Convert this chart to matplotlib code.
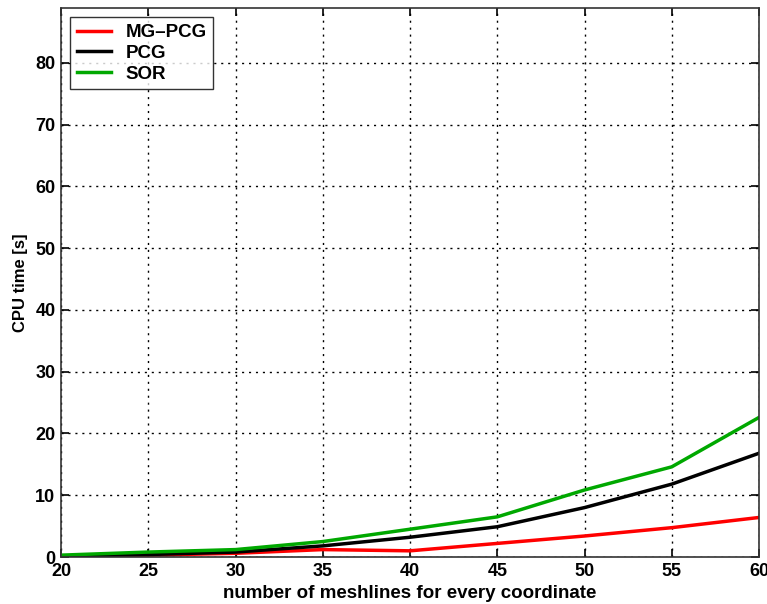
import matplotlib
matplotlib.use('Agg')
import matplotlib.pyplot as plt
import numpy as np

meshlines = [20, 25, 30, 35, 40, 45, 50, 55, 60]
mg_pcg = [0.1, 0.3, 0.6, 1.2, 1.0, 2.2, 3.4, 4.75, 6.4]
pcg = [0.1, 0.4, 0.8, 1.8, 3.2, 4.9, 8.0, 11.8, 16.8]
sor = [0.3, 0.8, 1.2, 2.5, 4.5, 6.5, 10.85, 14.6, 22.6]

plt.rcParams['font.family'] = 'Liberation Sans'
plt.rcParams['font.weight'] = 'bold'

fig = plt.figure(figsize=(7.67, 6.04), dpi=100)
ax = fig.add_axes([61/767, 1 - 557/604, (759-61)/767, (557-8)/604])

ax.plot(meshlines, mg_pcg, color='#ff0000', lw=2.5, label='MG\u2013PCG')
ax.plot(meshlines, pcg, color='black', lw=2.5, label='PCG')
ax.plot(meshlines, sor, color='#00a800', lw=2.5, label='SOR')

ax.set_xlim(20, 60)
ax.set_ylim(0, 88.9)
ax.set_xticks(np.arange(20, 61, 5))
ax.set_yticks(np.arange(0, 81, 10))
ax.grid(True, color='black', linestyle=(0, (1.5, 3.5)), linewidth=1.0)
ax.tick_params(direction='in', length=6, width=1.2, labelsize=13, top=True, right=True, pad=4)
for lab in ax.get_xticklabels() + ax.get_yticklabels():
    lab.set_fontweight('bold')
for s in ax.spines.values():
    s.set_linewidth(1.2)
    s.set_color('#333333')

ax.set_xlabel('number of meshlines for every coordinate', fontsize=13.5, fontweight='bold', labelpad=4)
ax.set_ylabel('CPU time [s]', fontsize=12, fontweight='bold', labelpad=5)

leg = ax.legend(loc='upper left', fontsize=13.5, frameon=True, fancybox=False,
                edgecolor='black', borderaxespad=0.5, handlelength=1.8,
                labelspacing=0.2, borderpad=0.35, handletextpad=0.8)
leg.get_frame().set_linewidth(1.0)
for t in leg.get_texts():
    t.set_fontweight('bold')

fig.savefig('out.png', dpi=100)
